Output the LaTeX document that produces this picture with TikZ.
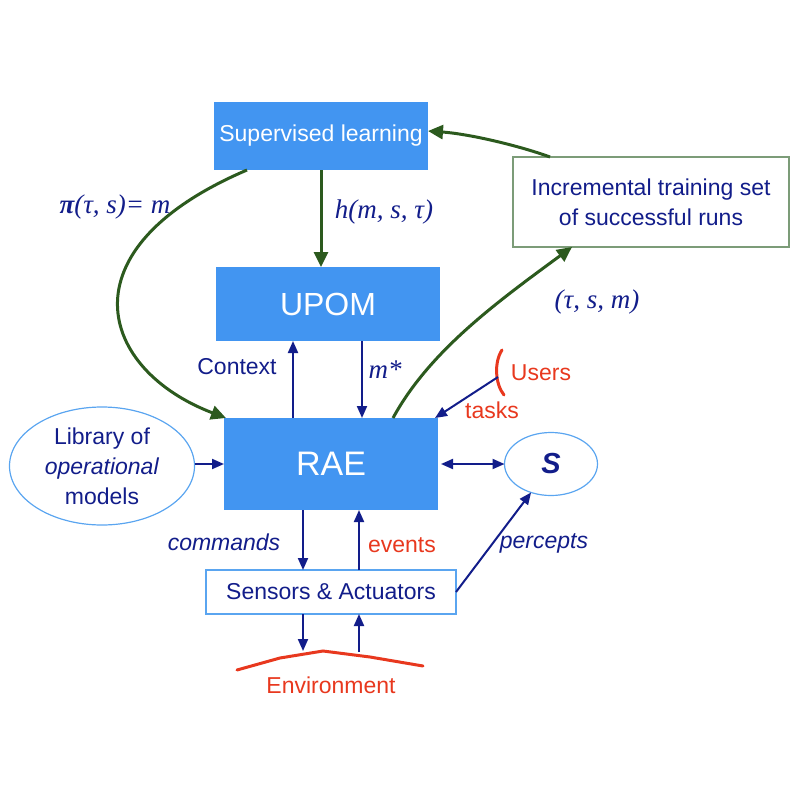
\documentclass[tikz,border=0pt]{standalone}
\usepackage{fontspec}
\setmainfont{Liberation Sans}
\newfontfamily\seriffont{Liberation Serif}
\usetikzlibrary{arrows.meta,shapes.geometric}
\definecolor{boxblue}{HTML}{4295F1}
\definecolor{navy}{HTML}{121D8A}
\definecolor{darkgreen}{HTML}{2C5A1E}
\definecolor{lightblue}{HTML}{5AA5F0}
\definecolor{greyframe}{HTML}{7C9C78}
\definecolor{envred}{HTML}{E8381E}
\newcommand{\mainsz}{\fontsize{23}{30}\selectfont}
\newcommand{\mathsz}{\fontsize{27}{30}\selectfont}

\begin{document}
\begin{tikzpicture}[x=1pt,y=-1pt]
\tikzset{block/.style = {fill=boxblue, text=white, inner sep=0pt, outer sep=0pt, font=\mainsz}}
\tikzset{frame/.style = {draw=lightblue, line width=1.2pt, text=navy, inner sep=0pt, outer sep=0pt, font=\mainsz, align=center}}
\tikzset{navytip/.tip = {Triangle[length=12pt,width=10pt]}}
\tikzset{navyarrow/.style = {draw=navy, line width=2pt, -navytip}}
\tikzset{greenarrow/.style = {draw=darkgreen, line width=3pt, -{Triangle[length=15pt,width=14pt]}}}
\tikzset{mathlabel/.style = {text=navy, font=\seriffont\itshape\mathsz}}
\tikzset{redlabel/.style = {text=envred, font=\mainsz}}
\useasboundingbox (0,0) rectangle (800,800);

% blue blocks
\node[block, minimum width=214pt, minimum height=68pt] (learn) at (321,136) {Supervised learning};
\node[block, minimum width=224pt, minimum height=74pt, font=\fontsize{32}{36}\selectfont] (upom) at (328,304) {UPOM};
\node[block, minimum width=214pt, minimum height=92pt, font=\fontsize{34}{40}\selectfont] (rae) at (331,464) {RAE};

% framed nodes
\node[frame, draw=greyframe, minimum width=276pt, minimum height=90pt] (train) at (651,202) {Incremental training set\\of successful runs};
\node[frame, ellipse, minimum width=185pt, minimum height=118pt] (lib) at (102,466) {Library of\\\textit{operational}\\models};
\node[frame, ellipse, minimum width=93pt, minimum height=63pt, font=\fontsize{29}{30}\selectfont\bfseries\itshape] (s) at (551,464) {S};
\node[frame, minimum width=250pt, minimum height=44pt] (sensors) at (331,592) {Sensors \& Actuators};

% environment and users
\coordinate (envpeak) at (323,651);
\draw[envred, line width=3pt, line cap=round] (237,670) -- (280,658) -- (envpeak) -- (370,657) -- (423,666);
\node[redlabel] (env) at (331,685) {Environment};
\draw[envred, line width=3pt, line cap=round] (502,350) .. controls (494,362) and (495,384) .. (504,395);
\coordinate (usrtip) at (498,377);
\node[redlabel] (users) at (541,373) {Users};
\node[redlabel] (tasks) at (492,410) {tasks};

% green learning loop
\draw[greenarrow] (learn.south) -- (learn.south |- upom.north);
\draw[greenarrow] ([xshift=33pt]learn.south west) .. controls (60,250) and (100,370) .. ([xshift=2pt]rae.north west);
\draw[greenarrow] ([xshift=169pt]rae.north west) .. controls (430,350) and (500,300) .. ([xshift=59pt]train.south west);
\draw[greenarrow] ([xshift=37pt]train.north west) .. controls (520,146) and (470,134) .. ([yshift=5pt]learn.east);

% navy connectors
\coordinate (ctxfoot) at ([xshift=69pt]rae.north west);
\coordinate (mfoot) at ([xshift=138pt]rae.north west);
\coordinate (cmdtop) at ([xshift=79pt]rae.south west);
\coordinate (evtop) at ([xshift=135pt]rae.south west);
\draw[navyarrow] (ctxfoot) -- (ctxfoot |- upom.south);
\draw[navyarrow] (mfoot |- upom.south) -- (mfoot);
\draw[navyarrow] (cmdtop) -- (cmdtop |- sensors.north);
\draw[navyarrow] (evtop |- sensors.north) -- (evtop);
\draw[navyarrow] (cmdtop |- sensors.south) -- (cmdtop |- envpeak);
\draw[navyarrow] ([yshift=-1pt]evtop |- envpeak) -- (evtop |- sensors.south);
\draw[navyarrow] (lib.east |- rae.west) -- (rae.west);
\draw[navyarrow, navytip-navytip, shorten <=3pt] (rae.east) -- (s.west);
\draw[navyarrow] (sensors.east) -- (s.235);
\draw[navyarrow] (usrtip) -- ([xshift=-3pt]rae.north east);

% labels
\node[mathlabel] (pilabel) at (115,207) {{\bfseries π}(τ, s)= m};
\node[mathlabel] (hlabel) at (384,212) {h(m, s, τ)};
\node[mathlabel] (tsmlabel) at (597,302) {(τ, s, m)};
\node[mathlabel] (mstar) at (385,370) {m*};
\node[text=navy, font=\mainsz] (ctx) at (237,367) {Context};
\node[text=navy, font=\mainsz\itshape] (cmds) at (224,542) {commands};
\node[redlabel] (events) at (402,545) {events};
\node[text=navy, font=\mainsz\itshape] (percepts) at (544,543) {percepts};
\end{tikzpicture}
\end{document}
